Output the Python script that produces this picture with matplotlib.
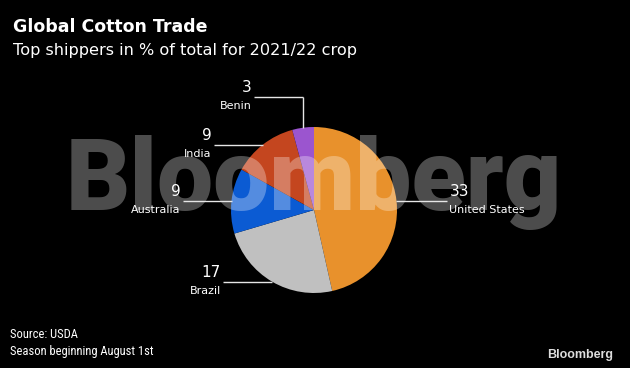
import numpy as np
import matplotlib
matplotlib.use("Agg")
import matplotlib.pyplot as plt

# ============================================================
# DATA
# ============================================================

countries = ["United States", "Brazil", "Australia", "India", "Benin"]
shares = [33, 17, 9, 9, 3]
colors = ["#e8912c", "#c0c0c0", "#0b5bd3", "#c4461f", "#9b55cf"]

# horizontal leader length in pixels (negative = to the left)
leader_len = [51, -49, -49, -49, -49]

# ============================================================
# FIGURE
# ============================================================

W, H, DPI = 630, 368, 100
fig = plt.figure(figsize=(W / DPI, H / DPI), dpi=DPI, facecolor="black")

cx, cy, r = 314, 210, 83
ax = fig.add_axes([(cx - r) / W, 1 - (cy + r) / H, 2 * r / W, 2 * r / H])
ax.set_facecolor("black")

wedges, _ = ax.pie(
    shares,
    colors=colors,
    startangle=90,
    counterclock=False,
    radius=1,
    wedgeprops=dict(linewidth=0),
)
ax.set_xlim(-1, 1)
ax.set_ylim(-1, 1)
ax.set_aspect("equal")
ax.axis("off")

# watermark
ax.text(0, 0, "Bloomberg", ha="center", va="baseline",
        fontsize=72, fontweight=900, family=["Roboto", "DejaVu Sans"],
        color="white", alpha=0.3, zorder=5, clip_on=False)

# leader lines and labels
px = 1.0 / r  # one pixel in data units
line_kw = dict(color="#e6e6e6", linewidth=1.0, zorder=6, clip_on=False,
               solid_capstyle="butt")

for name, val, w, L in zip(countries, shares, wedges, leader_len):
    ang = np.deg2rad((w.theta1 + w.theta2) / 2)
    x0, y0 = np.cos(ang), np.sin(ang)

    if name == "Benin":
        # elbow: go up first, then left
        y1 = y0 + 31 * px
        ax.plot([x0, x0], [y0, y1], **line_kw)
        x1 = x0 + L * px
        ax.plot([x0, x1], [y1, y1], **line_kw)
        y0 = y1
    else:
        x1 = x0 + L * px
        ax.plot([x0, x1], [y0, y0], **line_kw)

    if L > 0:
        tx, ha = x1 + 2 * px, "left"
    else:
        tx, ha = x1 - 2 * px, "right"

    ax.text(tx, y0 + 9.5 * px, str(val), ha=ha, va="center",
            fontsize=11, color="white", zorder=6, clip_on=False)
    ax.text(tx, y0 - 9.5 * px, name, ha=ha, va="center",
            fontsize=8, color="white", zorder=6, clip_on=False)

# ============================================================
# TITLES / FOOTER
# ============================================================

fig.text(13 / W, 1 - 27 / H, "Global Cotton Trade", ha="left", va="center",
         fontsize=12.5, fontweight="bold", color="white")
fig.text(13 / W, 1 - 50 / H, "Top shippers in % of total for 2021/22 crop",
         ha="left", va="center", fontsize=11.6, color="white")

foot_font = ["Roboto Condensed", "Liberation Sans Narrow", "DejaVu Sans"]
fig.text(10 / W, 1 - 335 / H, "Source: USDA", ha="left", va="center",
         fontsize=9, family=foot_font, color="white")
fig.text(10 / W, 1 - 351 / H, "Season beginning August 1st", ha="left",
         va="center", fontsize=9, family=foot_font, color="white")
fig.text(613 / W, 1 - 355 / H, "Bloomberg", ha="right", va="center",
         fontsize=9, fontweight="bold", family="Liberation Sans",
         color="#dddddd")

fig.savefig("out.png", dpi=DPI, facecolor="black")
